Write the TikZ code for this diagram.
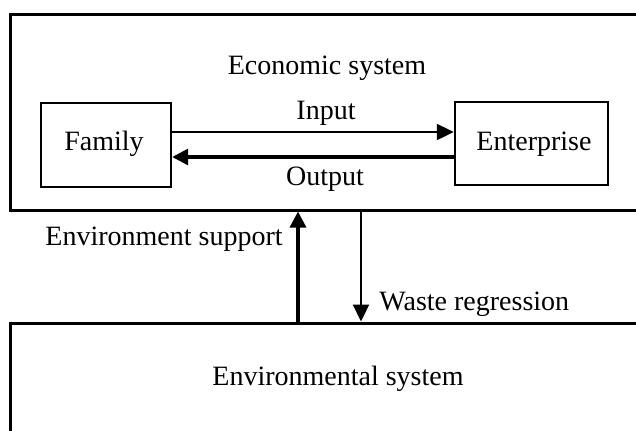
\documentclass[tikz,border=0pt]{standalone}
\usepackage{fontspec}
\setmainfont{Liberation Serif}
\usetikzlibrary{arrows.meta}
\begin{document}
\begin{tikzpicture}[x=0.5pt,y=-0.5pt,
  txt/.style={font=\fontsize{14}{16}\selectfont, inner sep=0pt},
  bigbox/.style={draw, line width=1.5pt, inner sep=0pt},
  smallbox/.style={draw, line width=1.2pt, inner sep=0pt},
  thinarr/.style={line width=1.1pt, -{Triangle[length=8.5pt,width=8pt]}},
  thickarr/.style={line width=1.6pt, -{Triangle[length=8pt,width=8pt]}}]
\useasboundingbox (0,0) rectangle (636,430);
\clip (0,0) rectangle (636,430);
\node[bigbox, minimum width=320pt, minimum height=98pt] (econ) at (330,112) {};
\node[bigbox, minimum width=320pt, minimum height=63.5pt] (env) at (330,386.5) {};
\node[smallbox, minimum width=65pt, minimum height=42pt] (family) at (106,145) {};
\node[smallbox, minimum width=76.5pt, minimum height=41.5pt] (enter) at (531.5,143.5) {};
\node[txt, anchor=base] (econlbl) at (327,74) {Economic system};
\node[txt, anchor=base] (famlbl) at (104,150) {Family};
\node[txt, anchor=base] (entlbl) at (534,150) {Enterprise};
\node[txt, anchor=base] (inlbl) at (326,119) {Input};
\node[txt, anchor=base] (outlbl) at (325,185) {Output};
\node[txt, anchor=base east] (suplbl) at (283,245) {Environment support};
\node[txt, anchor=base west] (wastelbl) at (379,310) {Waste regression};
\node[txt, anchor=base] (envlbl) at (338,385) {Environmental system};
\coordinate (yin) at (0,132);
\coordinate (yout) at (0,157);
\coordinate (xsup) at (298,0);
\coordinate (xwaste) at (361,0);
\draw[thinarr] (family.east |- yin) -- (enter.west |- yin);
\draw[thickarr] (enter.west |- yout) -- (family.east |- yout);
\draw[thickarr] (env.north -| xsup) -- (econ.south -| xsup);
\draw[thinarr] (econ.south -| xwaste) -- (env.north -| xwaste);
\end{tikzpicture}
\end{document}
